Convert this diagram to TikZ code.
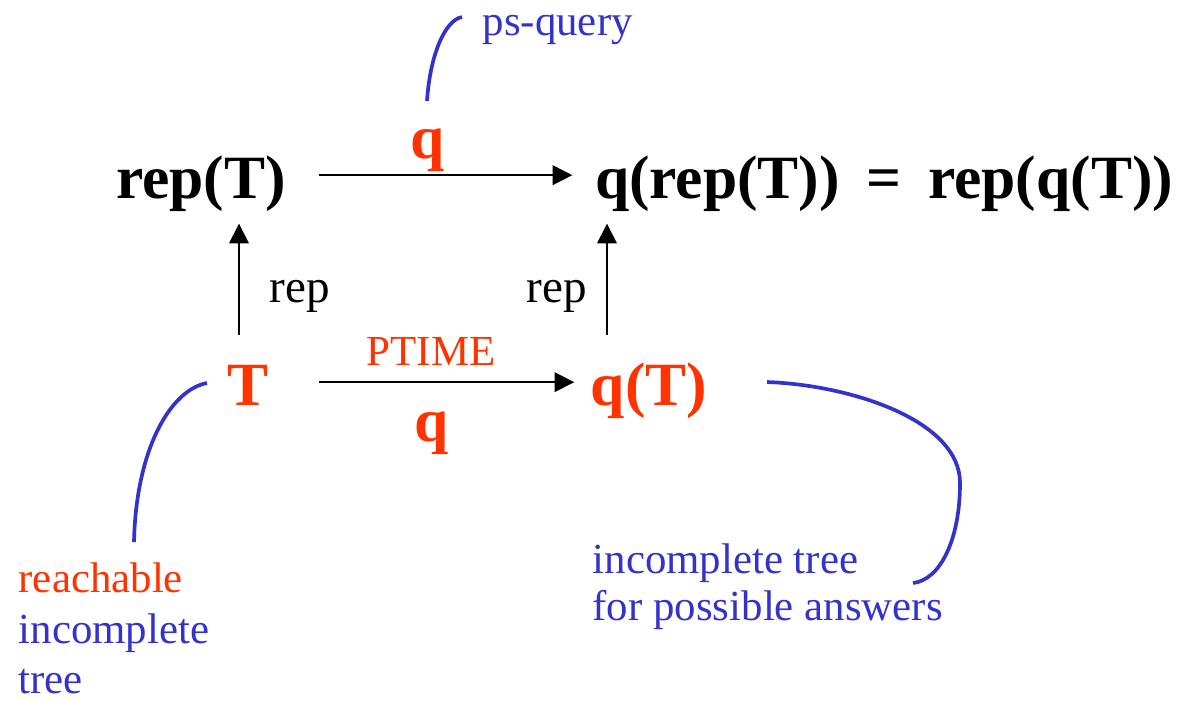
\documentclass[tikz,border=0pt]{standalone}
\usepackage{fontspec}
\setmainfont{Liberation Serif}
\usetikzlibrary{arrows.meta}
\definecolor{ansred}{RGB}{255,51,0}
\definecolor{ansblue}{RGB}{51,51,204}

\begin{document}
\begin{tikzpicture}[
  x=0.1mm, y=-0.1mm, >={Triangle[length=5.6pt,width=5.6pt]},
  big/.style={font=\fontsize{17.5}{21}\selectfont\bfseries, inner sep=0pt, anchor=base, text height=13pt, text depth=0pt},
  lab/.style={font=\fontsize{12.2}{14}\selectfont, inner sep=0pt, anchor=base},
  replab/.style={font=\fontsize{13.4}{16}\selectfont, inner sep=0pt, anchor=base},
  note/.style={font=\fontsize{12.2}{14}\selectfont, inner sep=0pt, anchor=base west, text=ansblue},
  map/.style={->, line width=0.45pt},
  curl/.style={draw=ansblue, line width=1.05pt}]
\useasboundingbox (0,0) rectangle (1180,700);
% ---------------- the square ----------------
\node[big] (repT) at (201,198) {rep(T)};
\node[big] (qrep) at (884,198) {q(rep(T))\hspace{3.2pt} = \hspace{3.2pt}rep(q(T))};
\node[big, text=ansred] (T) at (248,405) {T};
\node[big, text=ansred] (qT) at (649,405) {q(T)};
\draw[map, shorten <=3.2mm, shorten >=2.2mm] (repT.east) -- (qrep.west);
\draw[map, shorten <=4.95mm, shorten >=1.6mm] (T.east) -- (qT.west);
\draw[map, shorten <=2.4mm, shorten >=2.5mm] ([xshift=-0.9mm]T.north) -- ([xshift=-0.9mm]T.north |- repT.south);
\draw[map, shorten <=2.4mm, shorten >=2.5mm] ([xshift=-4.2mm]qT.north) -- ([xshift=-4.2mm]qT.north |- qrep.south);
% arrow labels
\node[big, text=ansred] (qtop) at (428,158) {q};
\node[big, text=ansred] (qbot) at (432,441) {q};
\node[lab, text=ansred] (ptime) at (431,365) {PTIME};
\node[replab] (repl) at (300,302) {rep};
\node[replab] (repr) at (557,302) {rep};
% ---------------- annotations ----------------
\node[note] (psq) at (482,35) {ps-query};
\draw[curl] (427,101) .. controls (430,55) and (445,20) .. (462,17);
\node[note, text=ansred] (reach) at (18,592) {reachable};
\node[note] (inc) at (18,643) {incomplete};
\node[note] (tree) at (18,693) {tree};
\draw[curl] (207,383) .. controls (170,390) and (136,450) .. (134,542);
\node[note] (ans1) at (592,573) {incomplete tree};
\node[note] (ans2) at (592,620) {for possible answers};
\draw[curl] (767,382) .. controls (850,385) and (960,420) .. (960,483)
  .. controls (960,540) and (940,580) .. (913,583);
\end{tikzpicture}
\end{document}
